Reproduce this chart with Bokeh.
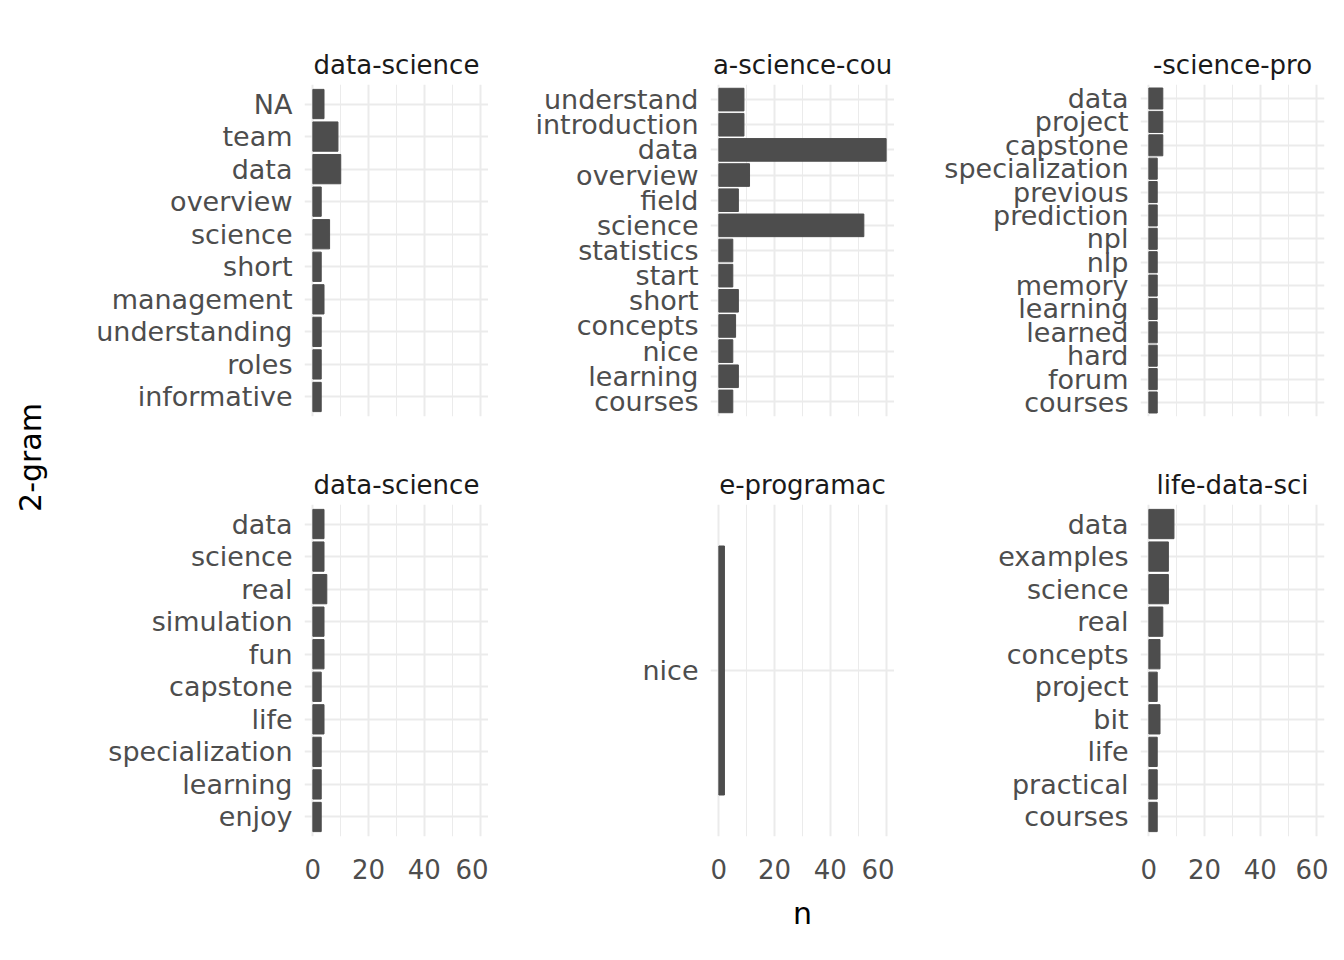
import math
from bokeh.plotting import figure
from bokeh.layouts import row, column
from bokeh.models import FixedTicker, Range1d, ColumnDataSource
from bokeh.core.properties import value
from bokeh.embed import file_html
from bokeh.resources import INLINE

titles = ["data-science", "a-science-cou", "-science-pro",
          "data-science", "e-programac", "life-data-sci"]
terms = [
    ["NA", "team", "data", "overview", "science", "short", "management", "understanding", "roles", "informative"],
    ["understand", "introduction", "data", "overview", "field", "science", "statistics", "start", "short", "concepts", "nice", "learning", "courses"],
    ["data", "project", "capstone", "specialization", "previous", "prediction", "npl", "nlp", "memory", "learning", "learned", "hard", "forum", "courses"],
    ["data", "science", "real", "simulation", "fun", "capstone", "life", "specialization", "learning", "enjoy"],
    ["nice"],
    ["data", "examples", "science", "real", "concepts", "project", "bit", "life", "practical", "courses"],
]
counts = [
    [4, 9, 10, 3, 6, 3, 4, 3, 3, 3],
    [9, 9, 60, 11, 7, 52, 5, 5, 7, 6, 5, 7, 5],
    [5, 5, 5, 3, 3, 3, 3, 3, 3, 3, 3, 3, 3, 3],
    [4, 4, 5, 4, 4, 3, 4, 3, 3, 3],
    [2],
    [9, 7, 7, 5, 4, 3, 4, 3, 3, 3],
]
x_ticks = [0, 20, 40, 60]

lefts = [254, 222, 246]
FW, FH = 184, 332

def panel(k):
    r, c = divmod(k, 3)
    n = len(terms[k])
    ys = [n - i for i in range(n)]
    p = figure(frame_width=FW, frame_height=FH, output_backend="svg", toolbar_location=None,
               x_range=Range1d(-3, 63), y_range=Range1d(0.4, n + 0.6),
               min_border_left=lefts[c], min_border_right=(4 if c == 2 else 0),
               min_border_top=(84 if r == 0 else 80), min_border_bottom=(8 if r == 0 else 90),
               title=titles[k])
    p.title.align = "center"
    p.title.text_font_size = "26px"
    p.title.text_font_style = "normal"
    p.title.text_color = "#1a1a1a"
    p.title.text_font = "DejaVu Sans"
    src = ColumnDataSource(dict(y=ys, right=counts[k]))
    p.hbar(y="y", right="right", left=0, height=0.9, source=src, color="#4d4d4d")
    p.outline_line_color = None
    p.xaxis.ticker = FixedTicker(ticks=x_ticks, minor_ticks=[10, 30, 50])
    p.yaxis.ticker = FixedTicker(ticks=ys)
    p.yaxis.major_label_overrides = {y: t for y, t in zip(ys, terms[k])}
    for ax in (p.xaxis, p.yaxis):
        ax.axis_line_color = None
        ax.major_tick_line_color = None
        ax.minor_tick_line_color = None
        ax.major_label_text_color = "#4d4d4d"
        ax.major_label_text_font = "DejaVu Sans"
    p.yaxis.major_label_text_font_size = "27px"
    p.xaxis.major_label_text_font_size = "26px"
    p.xaxis.major_label_standoff = 16
    p.yaxis.major_label_standoff = 6
    if r == 0:
        p.xaxis.major_label_text_alpha = 0
    if k == 4:
        p.xaxis.axis_label = "n"
        p.xaxis.axis_label_text_font_size = "30px"
        p.xaxis.axis_label_text_font_style = "normal"
        p.xaxis.axis_label_text_font = "DejaVu Sans"
        p.xaxis.axis_label_text_color = "#000000"
        p.xaxis.axis_label_standoff = 14
    p.xgrid.grid_line_color = "#ebebeb"
    p.xgrid.grid_line_width = 2
    p.xgrid.minor_grid_line_color = "#ebebeb"
    p.xgrid.minor_grid_line_width = 1
    p.ygrid.grid_line_color = "#ebebeb"
    p.ygrid.grid_line_width = 2
    return p

panels = [panel(k) for k in range(6)]

lab = figure(width=50, height=930, output_backend="svg", toolbar_location=None,
             x_range=Range1d(0, 50), y_range=Range1d(0, 930),
             min_border=0)
lab.axis.visible = False
lab.grid.visible = False
lab.outline_line_color = None
lab.text(x=[30], y=[930 - 457], text=["2-gram"], angle=math.pi / 2,
         text_align="center", text_baseline="middle", text_font_size="30px",
         text_font=value("DejaVu Sans"), text_color="#000000")

layout = row(lab, column(row(*panels[:3]), row(*panels[3:])))
open("out.html", "w").write(file_html(layout, INLINE))
